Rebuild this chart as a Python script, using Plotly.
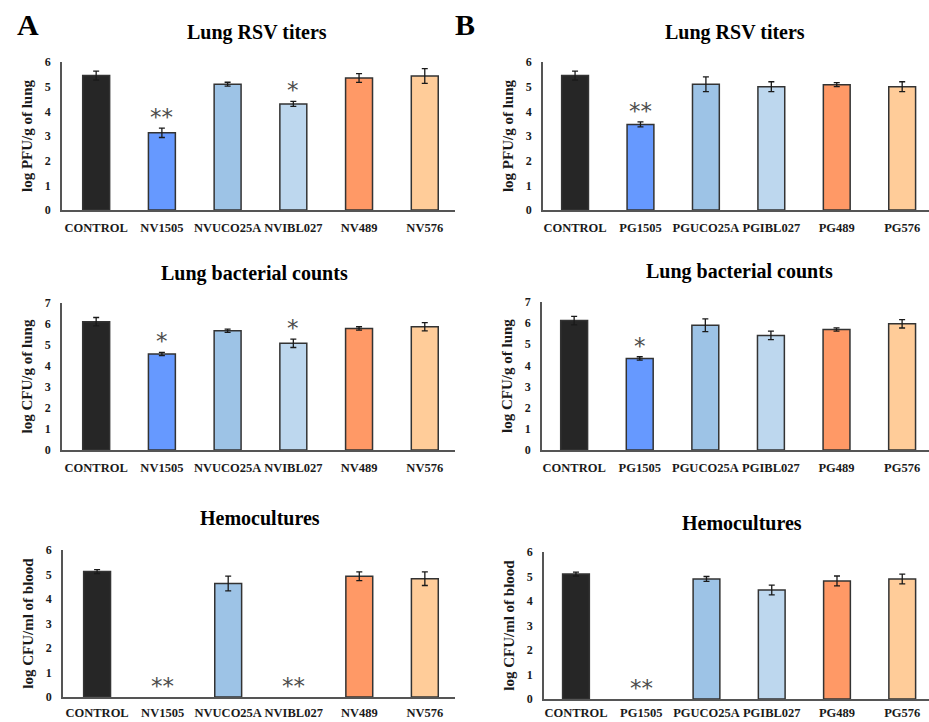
import plotly.graph_objects as go

W, H = 929, 722

cats_nv = ["CONTROL", "NV1505", "NVUCO25A", "NVIBL027", "NV489", "NV576"]
cats_pg = ["CONTROL", "PG1505", "PGUCO25A", "PGIBL027", "PG489", "PG576"]
colors = ["#262626", "#6699FF", "#9DC3E6", "#BDD7EE", "#FF9966", "#FFCC99"]

# Panel A (NV)
rsv_nv = [5.45, 3.13, 5.10, 4.30, 5.35, 5.43]
rsv_nv_err = [0.18, 0.19, 0.08, 0.10, 0.18, 0.30]
bact_nv = [6.11, 4.57, 5.68, 5.08, 5.79, 5.87]
bact_nv_err = [0.20, 0.08, 0.08, 0.20, 0.08, 0.20]
hemo_nv = [5.12, 0, 4.63, 0, 4.93, 4.83]
hemo_nv_err = [0.08, 0, 0.30, 0, 0.18, 0.28]

# Panel B (PG)
rsv_pg = [5.45, 3.47, 5.10, 5.00, 5.08, 5.00]
rsv_pg_err = [0.18, 0.10, 0.30, 0.20, 0.08, 0.20]
bact_pg = [6.12, 4.33, 5.90, 5.42, 5.70, 5.97]
bact_pg_err = [0.20, 0.08, 0.30, 0.20, 0.08, 0.20]
hemo_pg = [5.10, 0, 4.90, 4.45, 4.82, 4.90]
hemo_pg_err = [0.08, 0, 0.10, 0.20, 0.20, 0.20]

sig_rsv_nv = ["", "**", "", "*", "", ""]
sig_bact_nv = ["", "*", "", "*", "", ""]
sig_hemo_nv = ["", "**", "", "**", "", ""]
sig_rsv_pg = ["", "**", "", "", "", ""]
sig_bact_pg = ["", "*", "", "", "", ""]
sig_hemo_pg = ["", "**", "", "", "", ""]

titles = ["Lung RSV titers", "Lung bacterial counts", "Hemocultures"]
ytitles = ["log PFU/g of lung", "log CFU/g of lung", "log CFU/ml of blood"]

FONT = "Liberation Serif, Times New Roman, serif"

panels = [
    dict(cats=cats_nv, v=rsv_nv, e=rsv_nv_err, s=sig_rsv_nv, px=(62, 455), py=(62, 210), ymax=6, xr=[-0.52, 5.46], t=0, tx=257, ty=32, so=5),
    dict(cats=cats_pg, v=rsv_pg, e=rsv_pg_err, s=sig_rsv_pg, px=(543, 929), py=(62, 210), ymax=6, xr=[-0.49, 5.41], t=0, tx=735, ty=32, so=5),
    dict(cats=cats_nv, v=bact_nv, e=bact_nv_err, s=sig_bact_nv, px=(62, 455), py=(303, 450), ymax=7, xr=[-0.52, 5.46], t=1, tx=254, ty=273, so=5),
    dict(cats=cats_pg, v=bact_pg, e=bact_pg_err, s=sig_bact_pg, px=(542, 929), py=(302, 450), ymax=7, xr=[-0.49, 5.41], t=1, tx=739, ty=272, so=5),
    dict(cats=cats_nv, v=hemo_nv, e=hemo_nv_err, s=sig_hemo_nv, px=(63, 455), py=(550, 697), ymax=6, xr=[-0.52, 5.46], t=2, tx=260, ty=518, so=3),
    dict(cats=cats_pg, v=hemo_pg, e=hemo_pg_err, s=sig_hemo_pg, px=(544, 929), py=(552, 699), ymax=6, xr=[-0.49, 5.41], t=2, tx=742, ty=523, so=1),
]

fig = go.Figure()
annotations = []
layout = {}
for i, p in enumerate(panels):
    n = "" if i == 0 else str(i + 1)
    xa, ya = "x" + n, "y" + n
    # bars with value 0 are not drawn (no growth), only the significance mark is shown
    shown = [v if v > 0 else None for v in p["v"]]
    fig.add_trace(go.Bar(
        x=p["cats"], y=shown,
        error_y=dict(type="data", array=p["e"], visible=True,
                     color="#1a1a1a", thickness=1.3, width=3),
        marker=dict(color=colors, line=dict(color="#333333", width=1.5)),
        width=0.41, xaxis=xa, yaxis=ya, showlegend=False, hoverinfo="skip",
    ))
    layout["xaxis" + n] = dict(
        domain=[p["px"][0] / W, min(p["px"][1] / W, 1)], anchor=ya, automargin=False,
        type="category", categoryorder="array", categoryarray=p["cats"],
        range=p["xr"], showline=True, linecolor="#555555", linewidth=1.5,
        ticks="", ticklabelstandoff=p["so"], showgrid=False, zeroline=False, tickangle=0,
        tickfont=dict(family=FONT, size=12.5, color="#1a1a1a", weight="bold"),
    )
    layout["yaxis" + n] = dict(
        domain=[1 - p["py"][1] / H, 1 - p["py"][0] / H], anchor=xa, automargin=False,
        range=[0, p["ymax"]], dtick=1, showline=True, linecolor="#555555", linewidth=1.5,
        ticks="", showgrid=False, zeroline=False, ticklabelstandoff=7,
        tickfont=dict(family=FONT, size=12, color="#1a1a1a", weight="bold"),
        title=dict(text="<b>" + ytitles[p["t"]] + "</b>", standoff=9,
                   font=dict(family=FONT, size=15, color="#1a1a1a")),
    )
    for c, v, e, s in zip(p["cats"], p["v"], p["e"], p["s"]):
        if s:
            annotations.append(dict(x=c, y=v + e, xref=xa, yref=ya, text=s, showarrow=False,
                                    yanchor="bottom", yshift=-4,
                                    font=dict(family="DejaVu Sans", size=23, color="#4d4d4d")))
    annotations.append(dict(x=p["tx"] / W, y=1 - p["ty"] / H, xref="paper", yref="paper",
                            text="<b>" + titles[p["t"]] + "</b>", showarrow=False,
                            xanchor="center", yanchor="middle",
                            font=dict(family=FONT, size=20, color="#000000")))

annotations.append(dict(x=28 / W, y=1 - 24 / H, xref="paper", yref="paper", text="<b>A</b>",
                        showarrow=False, xanchor="center", yanchor="middle",
                        font=dict(family=FONT, size=30, color="#000000")))
annotations.append(dict(x=465 / W, y=1 - 24 / H, xref="paper", yref="paper", text="<b>B</b>",
                        showarrow=False, xanchor="center", yanchor="middle",
                        font=dict(family=FONT, size=30, color="#000000")))

fig.update_layout(
    width=W, height=H, margin=dict(l=0, r=0, t=0, b=0, autoexpand=False),
    paper_bgcolor="white", plot_bgcolor="white",
    annotations=annotations, **layout,
)
fig.write_html("out.html")
